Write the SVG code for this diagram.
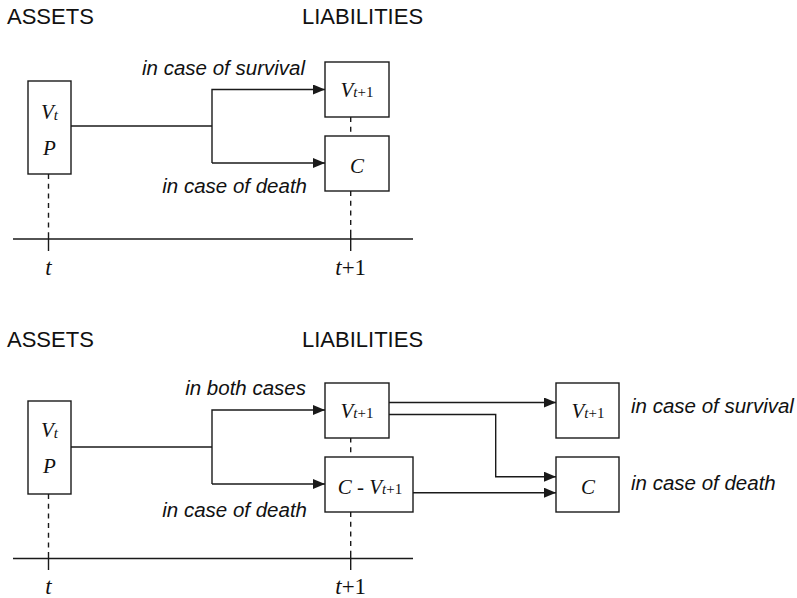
<svg xmlns="http://www.w3.org/2000/svg" width="797" height="598" viewBox="0 0 797 598">
<style>
.hd{font-family:"Liberation Sans",Arial,sans-serif;font-size:22px;fill:#111}
.lb{font-family:"Liberation Sans",Arial,sans-serif;font-size:20.5px;font-style:italic;fill:#111}
.mt{font-family:"Liberation Serif","Times New Roman",serif;font-size:21px;fill:#111}
.ax{font-family:"Liberation Serif","Times New Roman",serif;font-size:23px;fill:#111}
.i{font-style:italic}
.sb{font-size:15px}
.box{fill:#fff;stroke:#1a1a1a;stroke-width:1.4}
.ln{fill:none;stroke:#1a1a1a;stroke-width:1.4}
.ds{fill:none;stroke:#1a1a1a;stroke-width:1.4;stroke-dasharray:5 4.7}
</style>
<defs>
<marker id="ar" markerUnits="userSpaceOnUse" markerWidth="12" markerHeight="10" refX="12" refY="5" orient="auto">
<path d="M0,0 L12,5 L0,10 z" fill="#1a1a1a"/>
</marker>
</defs>
<rect width="797" height="598" fill="#fff"/>

<!-- top diagram -->
<text class="hd" x="7" y="24">ASSETS</text>
<text class="hd" x="302" y="24">LIABILITIES</text>
<text class="lb" x="305" y="75" text-anchor="end">in case of survival</text>
<text class="lb" x="307" y="193" text-anchor="end">in case of death</text>

<g id="connectors-top">
<line class="ds" x1="48.5" y1="174" x2="48.5" y2="233"/>
<line class="ln" x1="48.5" y1="233" x2="48.5" y2="251"/>
<line class="ds" x1="350.7" y1="117" x2="350.7" y2="136"/>
<line class="ds" x1="350.7" y1="191" x2="350.7" y2="233"/>
<line class="ln" x1="350.7" y1="233" x2="350.7" y2="251"/>
<line class="ln" x1="13" y1="239" x2="413" y2="239"/>
<polyline class="ln" points="71,126 212,126"/>
<polyline class="ln" points="212,163 212,89.5 325,89.5" marker-end="url(#ar)"/>
<polyline class="ln" points="212,163 325,163" marker-end="url(#ar)"/>
</g>

<g id="node-assets-top">
<rect class="box" x="28" y="81" width="43" height="93"/>
<text class="mt" x="49.5" y="119" text-anchor="middle"><tspan class="i">V</tspan><tspan class="i sb" dy="1">t</tspan></text>
<text class="mt i" x="49.5" y="155" text-anchor="middle">P</text>
</g>
<g id="node-v-top">
<rect class="box" x="325" y="62" width="64" height="55"/>
<text class="mt" x="357" y="96.5" text-anchor="middle"><tspan class="i">V</tspan><tspan class="sb i">t</tspan><tspan class="sb">+1</tspan></text>
</g>
<g id="node-c-top">
<rect class="box" x="325" y="136" width="64" height="55"/>
<text class="mt i" x="357" y="173" text-anchor="middle">C</text>
</g>
<text class="ax" x="48.5" y="275" text-anchor="middle"><tspan class="i">t</tspan></text>
<text class="ax" x="350.7" y="275" text-anchor="middle"><tspan class="i">t</tspan>+1</text>

<!-- bottom diagram -->
<text class="hd" x="7" y="347">ASSETS</text>
<text class="hd" x="302" y="347">LIABILITIES</text>
<text class="lb" x="306" y="395" text-anchor="end">in both cases</text>
<text class="lb" x="307" y="517" text-anchor="end">in case of death</text>
<text class="lb" x="631" y="413">in case of survival</text>
<text class="lb" x="631" y="490">in case of death</text>

<g id="connectors-bottom">
<line class="ds" x1="48.5" y1="494" x2="48.5" y2="552"/>
<line class="ln" x1="48.5" y1="552" x2="48.5" y2="570"/>
<line class="ds" x1="350.7" y1="437.5" x2="350.7" y2="457"/>
<line class="ds" x1="350.7" y1="512" x2="350.7" y2="552"/>
<line class="ln" x1="350.7" y1="552" x2="350.7" y2="570"/>
<line class="ln" x1="13" y1="558.5" x2="413" y2="558.5"/>
<polyline class="ln" points="71,447 212,447"/>
<polyline class="ln" points="212,484 212,410 325,410" marker-end="url(#ar)"/>
<polyline class="ln" points="212,484 325,484" marker-end="url(#ar)"/>
<polyline class="ln" points="389,402.5 556,402.5" marker-end="url(#ar)"/>
<polyline class="ln" points="389,414.5 495.7,414.5 495.7,476.7 556,476.7" marker-end="url(#ar)"/>
<polyline class="ln" points="413,492.7 556,492.7" marker-end="url(#ar)"/>
</g>

<g id="node-assets-bottom">
<rect class="box" x="28" y="401" width="43" height="93"/>
<text class="mt" x="49.5" y="437" text-anchor="middle"><tspan class="i">V</tspan><tspan class="i sb" dy="1">t</tspan></text>
<text class="mt i" x="49.5" y="473" text-anchor="middle">P</text>
</g>
<g id="node-v-bottom">
<rect class="box" x="325" y="383" width="64" height="55"/>
<text class="mt" x="357" y="418" text-anchor="middle"><tspan class="i">V</tspan><tspan class="sb i">t</tspan><tspan class="sb">+1</tspan></text>
</g>
<g id="node-cv-bottom">
<rect class="box" x="325" y="457" width="88" height="55"/>
<text class="mt" x="370" y="493.5" text-anchor="middle"><tspan class="i">C</tspan> - <tspan class="i">V</tspan><tspan class="sb i">t</tspan><tspan class="sb">+1</tspan></text>
</g>
<g id="node-v-right">
<rect class="box" x="556" y="383" width="63" height="55"/>
<text class="mt" x="588" y="417.5" text-anchor="middle"><tspan class="i">V</tspan><tspan class="sb i">t</tspan><tspan class="sb">+1</tspan></text>
</g>
<g id="node-c-right">
<rect class="box" x="556" y="457" width="63" height="55"/>
<text class="mt i" x="588" y="493.5" text-anchor="middle">C</text>
</g>
<text class="ax" x="48.5" y="594" text-anchor="middle"><tspan class="i">t</tspan></text>
<text class="ax" x="350.7" y="594" text-anchor="middle"><tspan class="i">t</tspan>+1</text>
</svg>
